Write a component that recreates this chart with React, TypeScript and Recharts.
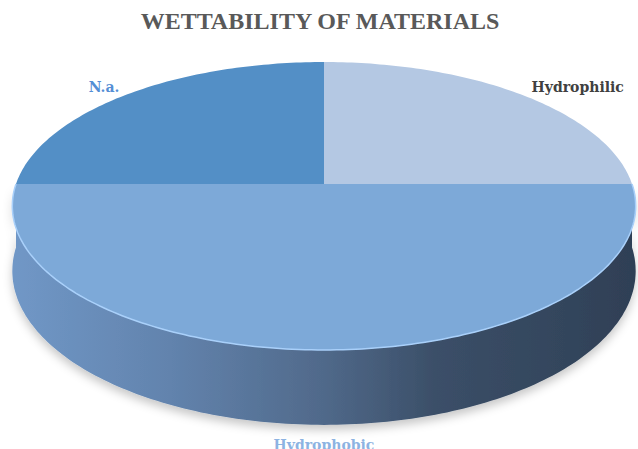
import { PieChart, Pie } from "recharts";

const categories = ["Hydrophilic", "Hydrophobic", "N.a."];
const shares = [25, 50, 25];
const topColors = ["#B4C8E3", "#7DA9D8", "#538FC6"];
const labelColors = ["#404040", "#8DB3E2", "#558ED5"];

const data = categories.map((name, i) => ({ name, value: shares[i] }));

// fake 3d: tilt + perspective + thickness, relative to the radius
const TILT = 0.4565;
const PERSP = 0.1528;
const DEPTH = 0.206;

function project(cx: number, cy: number, r: number, deg: number, drop = 0) {
  const t = (deg * Math.PI) / 180;
  const u = Math.cos(t);
  const v = Math.sin(t);
  const s = 1 / (1 + PERSP * v);
  return [cx + r * u * s, cy - r * TILT * v * s + r * DEPTH * drop * s];
}

function arcPoints(cx: number, cy: number, r: number, a1: number, a2: number, drop = 0) {
  const n = Math.max(2, Math.ceil(Math.abs(a2 - a1)));
  const pts: number[][] = [];
  for (let i = 0; i <= n; i++) {
    pts.push(project(cx, cy, r, a1 + ((a2 - a1) * i) / n, drop));
  }
  return pts;
}

const toPath = (pts: number[][]) =>
  pts.map((p, i) => `${i ? "L" : "M"}${p[0].toFixed(1)},${p[1].toFixed(1)}`).join(" ");

// parts of a sector that face the viewer (front half of the disc)
function frontRanges(startAngle: number, endAngle: number) {
  const lo = Math.min(startAngle, endAngle);
  const hi = Math.max(startAngle, endAngle);
  const out: number[][] = [];
  for (let k = -1; k <= 1; k++) {
    const a = Math.max(lo, -180 + 360 * k);
    const b = Math.min(hi, 360 * k);
    if (b - a > 0.01) out.push([a, b]);
  }
  return out;
}

function SideShape(props: any) {
  const { cx, cy, outerRadius: r, startAngle, endAngle } = props;
  const parts = frontRanges(startAngle, endAngle).map(([a, b]) => {
    const top = arcPoints(cx, cy, r, a, b, 0);
    const bottom = arcPoints(cx, cy, r, b, a, 1);
    return toPath(top.concat(bottom)) + " Z";
  });
  if (!parts.length) return <g />;
  return (
    <g>
      <defs>
        <linearGradient id="sideGrad" gradientUnits="userSpaceOnUse" x1={cx - r} y1={0} x2={cx + r} y2={0}>
          <stop offset="0" stopColor="#7097C6" />
          <stop offset="0.25" stopColor="#6283AD" />
          <stop offset="0.5" stopColor="#50698A" />
          <stop offset="0.68" stopColor="#3B4F68" />
          <stop offset="1" stopColor="#2F4056" />
        </linearGradient>
        <filter id="sideShadow" x="-10%" y="-20%" width="120%" height="160%">
          <feDropShadow dx="0" dy="5" stdDeviation="5" floodColor="#000" floodOpacity="0.22" />
        </filter>
      </defs>
      {parts.map((d, i) => (
        <path key={i} d={d} fill="url(#sideGrad)" filter="url(#sideShadow)" />
      ))}
    </g>
  );
}

function TopShape(props: any) {
  const { cx, cy, outerRadius: r, startAngle, endAngle, index } = props;
  const pts = [[cx, cy]].concat(arcPoints(cx, cy, r, startAngle, endAngle, 0));
  const rims = frontRanges(startAngle, endAngle).map(([a, b]) => toPath(arcPoints(cx, cy, r, a, b, 0)));
  return (
    <g>
      <path d={toPath(pts) + " Z"} fill={topColors[index % topColors.length]} />
      {rims.map((d, i) => (
        <path key={i} d={d} fill="none" stroke="#A9D0FA" strokeWidth={1.5} />
      ))}
    </g>
  );
}

function renderLabel(props: any) {
  const { cx, cy, outerRadius: r, midAngle, index, name } = props;
  const t = (midAngle * Math.PI) / 180;
  let x: number;
  let y: number;
  let anchor: "start" | "middle" | "end";
  if (Math.sin(t) < -0.5) {
    const p = project(cx, cy, r, midAngle, 1);
    x = p[0];
    y = p[1] + 20;
    anchor = "middle";
  } else {
    const p = project(cx, cy, r, midAngle, 0);
    y = p[1] - 7;
    if (Math.cos(t) < 0) {
      x = p[0] - 8;
      anchor = "end";
    } else {
      x = p[0] + 11;
      anchor = "start";
    }
  }
  return (
    <text
      x={x}
      y={y}
      textAnchor={anchor}
      dominantBaseline="central"
      fill={labelColors[index]}
      fontFamily="'DejaVu Serif', serif"
      fontWeight="bold"
      fontSize={14}
    >
      {name}
    </text>
  );
}

export default function App() {
  return (
    <div
      style={{
        position: "absolute",
        left: 0,
        top: 0,
        width: 638,
        height: 449,
        background: "#fff",
        overflow: "hidden",
      }}
    >
      <div
        style={{
          position: "absolute",
          left: 0,
          width: 640,
          top: 8,
          textAlign: "center",
          fontFamily: "'Liberation Serif', serif",
          fontWeight: "bold",
          fontSize: 24,
          color: "#595959",
        }}
      >
        WETTABILITY OF MATERIALS
      </div>
      <PieChart width={638} height={449} margin={{ top: 0, right: 0, bottom: 0, left: 0 }}>
        <Pie
          data={data}
          dataKey="value"
          nameKey="name"
          cx={324}
          cy={184}
          outerRadius={308}
          startAngle={90}
          endAngle={-270}
          fill="none"
          stroke="none"
          shape={SideShape}
          isAnimationActive={false}
        />
        <Pie
          data={data}
          dataKey="value"
          nameKey="name"
          cx={324}
          cy={184}
          outerRadius={308}
          startAngle={90}
          endAngle={-270}
          fill="none"
          stroke="none"
          shape={TopShape}
          label={renderLabel}
          labelLine={false}
          isAnimationActive={false}
        />
      </PieChart>
    </div>
  );
}
